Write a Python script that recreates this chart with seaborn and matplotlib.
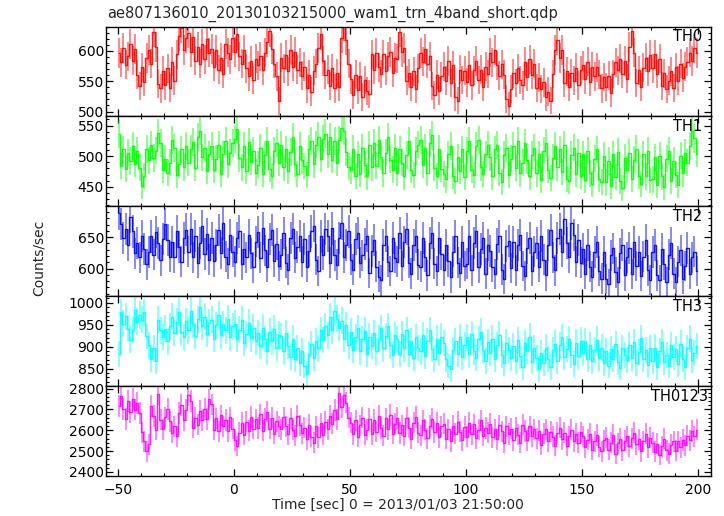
import numpy as np
import matplotlib
matplotlib.use("Agg")
import matplotlib.pyplot as plt
import seaborn as sns
from matplotlib.ticker import MultipleLocator

# light curve, 1 s bins, t = -49.5 ... 199.5
time_sec = np.arange(-49.5, 200.0, 1.0)

th0 = [
    596, 581, 604, 577, 591, 612, 584, 603, 561, 542,
    573, 549, 588, 601, 579, 631, 607, 546, 538, 567,
    543, 571, 539, 582, 551, 594, 624, 638, 602, 621,
    629, 598, 622, 584, 607, 579, 612, 586, 619, 597,
    603, 574, 601, 569, 589, 562, 611, 597, 586, 621,
    598, 627, 591, 579, 602, 571, 558, 583, 552, 587,
    576, 591, 568, 597, 614, 632, 603, 579, 558, 517,
    589, 571, 593, 566, 602, 574, 598, 569, 581, 559,
    574, 538, 561, 533, 567, 579, 604, 627, 583, 561,
    569, 542, 571, 538, 563, 541, 621, 641, 618, 579,
    553, 527, 561, 536, 558, 524, 552, 534, 529, 594,
    569, 597, 573, 562, 594, 567, 591, 598, 564, 589,
    587, 631, 598, 604, 551, 563, 541, 566, 537, 571,
    596, 582, 603, 579, 591, 542, 527, 561, 534, 558,
    574, 551, 583, 547, 576, 524, 518, 569, 552, 567,
    548, 576, 543, 568, 583, 552, 569, 541, 574, 562,
    597, 581, 602, 576, 559, 578, 561, 521, 509, 537,
    563, 547, 571, 552, 543, 582, 557, 586, 561, 579,
    539, 556, 537, 548, 524, 533, 518, 562, 601, 618,
    588, 602, 547, 566, 541, 563, 551, 572, 543, 568,
    576, 553, 582, 549, 574, 558, 573, 561, 538, 557,
    541, 559, 531, 562, 581, 568, 587, 562, 583, 554,
    607, 633, 597, 547, 568, 541, 572, 589, 566, 593,
    571, 594, 562, 587, 542, 563, 537, 551, 566, 539,
    573, 551, 579, 556, 574, 582, 597, 583, 604, 596,
]

th1 = [
    536, 484, 511, 479, 506, 492, 517, 488, 509, 481,
    452, 468, 512, 493, 518, 497, 509, 538, 522, 478,
    496, 473, 489, 526, 513, 469, 487, 511, 482, 517,
    489, 512, 523, 481, 531, 541, 498, 514, 476, 503,
    517, 478, 496, 519, 471, 503, 524, 487, 506, 521,
    528, 544, 497, 482, 516, 476, 523, 491, 509, 473,
    486, 513, 471, 502, 524, 479, 468, 508, 521, 489,
    519, 482, 511, 476, 507, 531, 488, 471, 516, 493,
    484, 469, 512, 524, 487, 519, 532, 496, 528, 537,
    503, 531, 494, 524, 489, 527, 546, 541, 507, 483,
    477, 512, 468, 503, 471, 514, 486, 467, 518, 482,
    521, 484, 527, 499, 472, 506, 531, 494, 478, 513,
    473, 511, 489, 467, 502, 524, 478, 469, 508, 519,
    527, 486, 514, 473, 521, 534, 481, 468, 512, 479,
    471, 462, 503, 517, 468, 459, 498, 476, 511, 466,
    509, 524, 478, 469, 516, 527, 482, 471, 503, 519,
    498, 467, 511, 518, 473, 458, 502, 513, 469, 496,
    517, 481, 524, 472, 489, 521, 493, 467, 502, 514,
    472, 503, 461, 509, 521, 478, 464, 497, 516, 482,
    511, 474, 518, 463, 459, 502, 514, 471, 506, 468,
    503, 461, 509, 472, 454, 496, 511, 463, 458, 501,
    457, 492, 451, 503, 466, 507, 459, 448, 497, 478,
    506, 463, 494, 512, 468, 455, 503, 467, 509, 461,
    462, 498, 453, 501, 467, 449, 496, 508, 459, 492,
    469, 453, 501, 472, 506, 489, 517, 541, 529, 504,
]

th2 = [
    688, 671, 648, 663, 637, 682, 659, 624, 641, 618,
    652, 631, 607, 626, 651, 622, 658, 641, 613, 647,
    671, 646, 619, 642, 618, 659, 634, 611, 648, 662,
    627, 663, 618, 652, 609, 641, 668, 623, 655, 614,
    649, 612, 637, 661, 625, 672, 619, 608, 654, 627,
    611, 648, 659, 607, 631, 618, 653, 624, 602, 643,
    658, 617, 664, 629, 603, 647, 661, 612, 639, 604,
    622, 656, 609, 598, 648, 663, 617, 634, 652, 611,
    647, 603, 628, 659, 668, 614, 596, 651, 622, 663,
    652, 609, 664, 621, 606, 648, 672, 618, 637, 659,
    614, 598, 647, 656, 609, 621, 639, 652, 593, 628,
    646, 603, 587, 581, 637, 652, 611, 596, 648, 617,
    611, 657, 604, 642, 663, 609, 592, 637, 651, 606,
    603, 648, 619, 589, 641, 657, 608, 596, 649, 623,
    597, 638, 612, 586, 627, 651, 609, 593, 642, 604,
    608, 652, 597, 641, 659, 602, 631, 649, 592, 637,
    628, 603, 591, 639, 651, 598, 583, 636, 644, 601,
    642, 597, 637, 653, 604, 588, 633, 649, 596, 627,
    641, 603, 652, 614, 589, 637, 661, 618, 597, 648,
    663, 627, 679, 641, 618, 672, 654, 611, 646, 609,
    631, 592, 638, 603, 587, 626, 642, 596, 584, 627,
    583, 576, 621, 632, 594, 578, 624, 637, 589, 618,
    633, 591, 642, 604, 627, 588, 619, 646, 597, 582,
    626, 638, 589, 581, 631, 607, 579, 622, 641, 592,
    578, 611, 629, 583, 604, 633, 591, 618, 627, 596,
]

th3 = [
    884, 978, 952, 969, 941, 916, 938, 983, 957, 972,
    961, 978, 924, 903, 871, 896, 868, 961, 937, 922,
    941, 912, 947, 968, 931, 957, 979, 933, 921, 958,
    937, 982, 951, 924, 962, 991, 947, 968, 929, 955,
    961, 918, 949, 972, 926, 951, 937, 963, 921, 946,
    952, 917, 939, 961, 908, 928, 955, 919, 943, 912,
    931, 902, 943, 917, 889, 934, 912, 941, 898, 927,
    924, 889, 931, 902, 876, 918, 871, 897, 862, 891,
    857, 838, 883, 906, 874, 912, 896, 938, 915, 947,
    926, 968, 937, 981, 964, 943, 959, 918, 949, 903,
    934, 893, 921, 942, 889, 917, 936, 884, 923, 901,
    931, 889, 918, 942, 896, 924, 947, 903, 881, 926,
    917, 884, 929, 896, 938, 883, 912, 873, 921, 897,
    889, 926, 878, 913, 937, 894, 871, 918, 886, 923,
    908, 871, 857, 849, 893, 912, 884, 921, 876, 903,
    921, 883, 928, 889, 874, 917, 934, 892, 867, 911,
    886, 918, 871, 903, 927, 881, 862, 909, 893, 874,
    902, 868, 915, 879, 853, 908, 891, 923, 866, 897,
    874, 849, 886, 862, 898, 871, 853, 892, 907, 868,
    903, 921, 876, 894, 917, 882, 861, 909, 878, 914,
    886, 912, 871, 903, 867, 892, 916, 874, 898, 863,
    889, 857, 894, 871, 906, 864, 852, 897, 881, 869,
    903, 874, 911, 862, 888, 919, 871, 893, 858, 897,
    867, 898, 853, 889, 911, 864, 882, 857, 903, 876,
    894, 861, 907, 872, 853, 896, 918, 869, 885, 902,
]

th0123 = [
    2718, 2765, 2702, 2655, 2741, 2688, 2752, 2699, 2731, 2684,
    2591, 2546, 2498, 2532, 2716, 2668, 2603, 2772, 2651, 2604,
    2662, 2701, 2643, 2588, 2619, 2571, 2683, 2722, 2648, 2697,
    2768, 2741, 2612, 2659, 2627, 2691, 2648, 2703, 2655, 2748,
    2724, 2603, 2657, 2594, 2671, 2618, 2649, 2596, 2662, 2608,
    2551, 2524, 2587, 2636, 2579, 2641, 2598, 2663, 2607, 2652,
    2611, 2676, 2598, 2653, 2689, 2607, 2661, 2584, 2642, 2619,
    2605, 2662, 2618, 2581, 2657, 2603, 2574, 2668, 2623, 2586,
    2612, 2557, 2626, 2569, 2541, 2618, 2566, 2633, 2579, 2641,
    2604, 2668, 2631, 2697, 2652, 2781, 2712, 2768, 2733, 2661,
    2637, 2581, 2648, 2569, 2623, 2661, 2579, 2603, 2654, 2582,
    2649, 2592, 2668, 2611, 2573, 2657, 2604, 2672, 2583, 2631,
    2658, 2587, 2624, 2573, 2661, 2612, 2558, 2637, 2664, 2589,
    2576, 2648, 2603, 2562, 2621, 2653, 2591, 2637, 2566, 2619,
    2632, 2558, 2604, 2547, 2621, 2583, 2639, 2592, 2551, 2616,
    2569, 2637, 2581, 2628, 2562, 2603, 2647, 2574, 2611, 2589,
    2631, 2566, 2604, 2557, 2623, 2594, 2539, 2618, 2582, 2607,
    2553, 2612, 2578, 2541, 2627, 2596, 2552, 2619, 2571, 2604,
    2562, 2598, 2531, 2583, 2604, 2547, 2592, 2568, 2526, 2589,
    2613, 2557, 2588, 2524, 2571, 2602, 2548, 2583, 2539, 2591,
    2571, 2518, 2554, 2583, 2506, 2546, 2577, 2521, 2498, 2552,
    2563, 2507, 2541, 2579, 2486, 2537, 2558, 2503, 2549, 2571,
    2523, 2561, 2589, 2532, 2557, 2498, 2546, 2583, 2519, 2564,
    2541, 2497, 2536, 2481, 2522, 2559, 2503, 2487, 2531, 2548,
    2502, 2547, 2519, 2553, 2528, 2574, 2552, 2596, 2571, 2603,
]

band_names = ["TH0", "TH1", "TH2", "TH3", "TH0123"]
band_rates = [th0, th1, th2, th3, th0123]
band_colors = ["#ff0000", "#00ff00", "#0000ff", "#00ffff", "#ff00ff"]
band_ylims = [(492, 640), (418, 565), (556, 699), (810, 1015), (2380, 2812)]
band_minor = [10, 10, 10, 10, 20]
label_x = [0.986, 0.986, 0.986, 0.986, 0.995]

sns.set_style("ticks")
plt.rcParams["font.family"] = ["DejaVu Sans"]

fig, axes = plt.subplots(5, 1, figsize=(7.24, 5.16), dpi=100, sharex=True)
fig.subplots_adjust(left=0.1464, right=0.9816, top=0.9486, bottom=0.0775, hspace=0)

for ax, name, rate, col, ylim, mstep, lx in zip(axes, band_names, band_rates,
                                                 band_colors, band_ylims,
                                                 band_minor, label_x):
    rate = np.array(rate, dtype=float)
    err = np.sqrt(rate)  # poisson error, 1 s bins
    # barras de error
    ax.vlines(time_sec, rate - err, rate + err, color=col, lw=1.2, alpha=0.55)
    # curva en escalon
    sns.lineplot(x=time_sec, y=rate, ax=ax, color=col, lw=1.0,
                 drawstyle="steps-mid", estimator=None, alpha=0.9)
    ax.set_ylim(*ylim)
    ax.set_xlim(-55.0, 205.5)
    ax.set_ylabel("")
    ax.yaxis.set_major_locator(MultipleLocator(50 if name != "TH0123" else 100))
    ax.yaxis.set_minor_locator(MultipleLocator(mstep))
    ax.xaxis.set_major_locator(MultipleLocator(50))
    ax.xaxis.set_minor_locator(MultipleLocator(10))
    ax.tick_params(which="both", direction="in", top=True, right=True,
                   colors="black", labelsize=10)
    ax.tick_params(which="major", length=5, width=0.9)
    ax.tick_params(which="minor", length=2.5, width=0.8)
    ax.tick_params(axis="y", pad=1.5)
    ax.tick_params(axis="x", pad=5)
    for s in ax.spines.values():
        s.set_linewidth(1.0)
        s.set_color("black")
    ax.text(lx, 0.89, name, transform=ax.transAxes, ha="right", va="center",
            fontsize=10.5, color="black")

axes[-1].set_xticks([-50, 0, 50, 100, 150, 200])
axes[-1].set_xticklabels(["\u221250", "0", "50", "100", "150", "200"])

fig.text(107 / 724, 1 - 14 / 516, "ae807136010_20130103215000_wam1_trn_4band_short.qdp",
         ha="left", va="center", fontsize=10.5)
fig.text(39 / 724, 1 - 258 / 516, "Counts/sec", rotation=90, ha="center",
         va="center", fontsize=10)
fig.text(398 / 724, 1 - 505 / 516, "Time [sec] 0 = 2013/01/03 21:50:00",
         ha="center", va="center", fontsize=10)

fig.savefig("out.png", dpi=100)
plt.close(fig)
